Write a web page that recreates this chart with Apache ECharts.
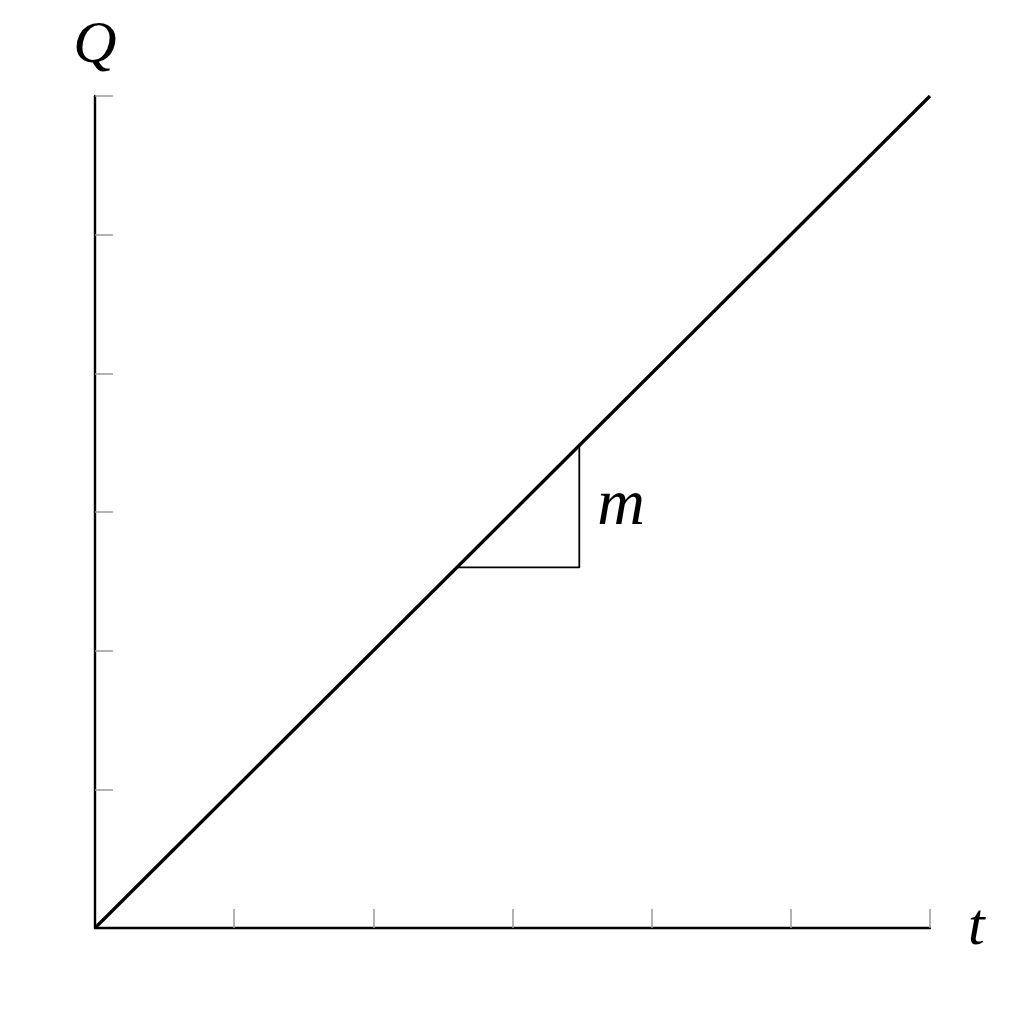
<!DOCTYPE html>
<html>
<head>
<meta charset="utf-8">
<script src="https://cdn.jsdelivr.net/npm/echarts@6/dist/echarts.min.js"></script>
<style>html,body{margin:0;padding:0;background:#fff;}#c{width:1024px;height:1024px;}</style>
</head>
<body>
<div id="c"></div>
<script>
const lineData = [[0, 0], [6, 6]];
const slopeTriangle = [[2.6, 2.6], [3.48, 2.6], [3.48, 3.48]];
const slopeLabelPoint = [[3.48, 3.04]];
const slopeLabel = 'm';
const xName = 't';
const yName = 'Q';
const tickValues = [1, 2, 3, 4, 5, 6];

const chart = echarts.init(document.getElementById('c'));
const serif = 'Liberation Serif';
chart.setOption({
  animation: false,
  backgroundColor: '#fff',
  grid: { left: 95, right: 94, top: 96, bottom: 96 },
  xAxis: {
    type: 'value', min: 0, max: 6, interval: 1,
    name: xName, nameLocation: 'end', nameGap: 38,
    nameTextStyle: { fontFamily: serif, fontStyle: 'italic', fontSize: 60, color: '#000', verticalAlign: 'middle' },
    axisLine: { show: true, lineStyle: { color: '#000', width: 2.4 } },
    axisTick: { show: true, inside: true, length: 19, customValues: tickValues, lineStyle: { color: '#999', width: 1.5 } },
    axisLabel: { show: false },
    splitLine: { show: false }
  },
  yAxis: {
    type: 'value', min: 0, max: 6, interval: 1,
    name: yName, nameLocation: 'end', nameGap: 20,
    nameTextStyle: { fontFamily: serif, fontStyle: 'italic', fontSize: 60, color: '#000', align: 'center' },
    axisLine: { show: true, lineStyle: { color: '#000', width: 2.4 } },
    axisTick: { show: true, inside: true, length: 18, customValues: tickValues, lineStyle: { color: '#999', width: 1.5 } },
    axisLabel: { show: false },
    splitLine: { show: false }
  },
  series: [
    {
      type: 'line', data: lineData, symbol: 'none',
      lineStyle: { color: '#000', width: 3.2 }, z: 3
    },
    {
      type: 'line', data: slopeTriangle, symbol: 'none',
      lineStyle: { color: '#000', width: 1.8 }, z: 2
    },
    {
      type: 'scatter', data: slopeLabelPoint, symbolSize: 0,
      itemStyle: { color: '#000', opacity: 1 },
      label: {
        show: true, position: 'right', distance: 18,
        formatter: slopeLabel, opacity: 1,
        fontFamily: serif, fontStyle: 'italic', fontSize: 66, color: '#000'
      }
    }
  ]
});
</script>
</body>
</html>
